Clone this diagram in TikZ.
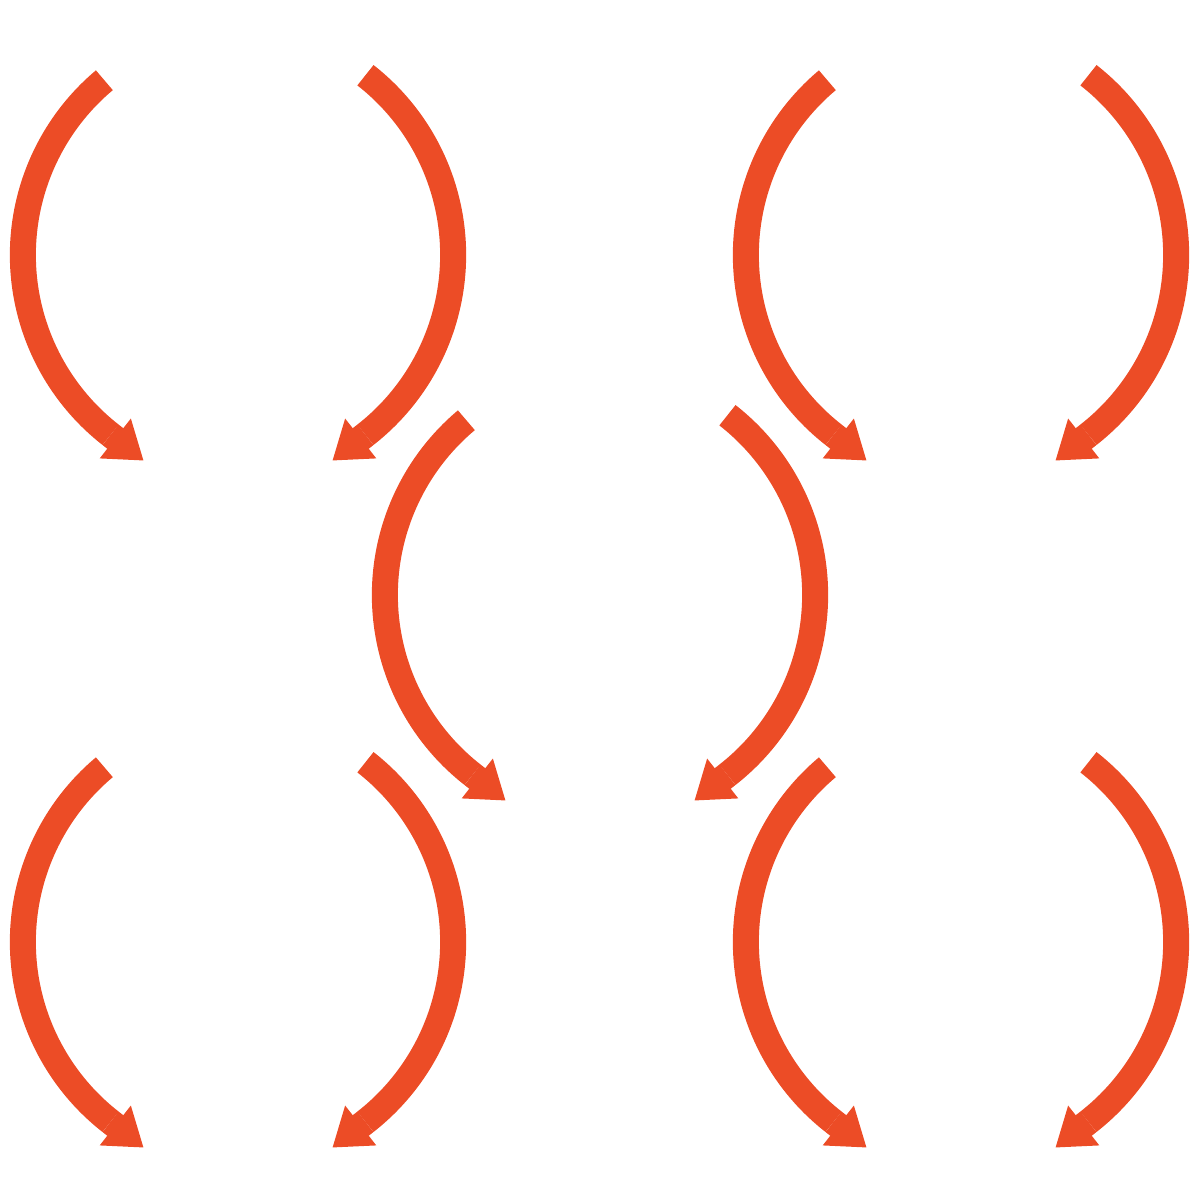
\documentclass[tikz,border=0pt]{standalone}
\usetikzlibrary{arrows.meta}
\definecolor{arcred}{HTML}{EC4C26}
\tikzset{arcline/.style={draw=arcred,line width=0.26cm},
  arcarrow/.style={arcline,-{Triangle[length=0.36cm,width=0.48cm]}}}
\begin{document}
\begin{tikzpicture}[x=0.01cm,y=0.01cm]
	\useasboundingbox (0,-1200) rectangle (1200,0);
	% pairs of arcs, centre of each pair
	\foreach \cx/\cy in {238/255, 961/255, 600/595, 238/942, 961/942}{
		\draw[arcline] (\cx+13,-\cy) ++(130:2.28cm) arc[start angle=130,end angle=232,radius=2.28cm] coordinate (lend);
		\draw[arcarrow] (lend) -- ++(322:0.42cm);
		\draw[arcline] (\cx-13,-\cy) ++(52:2.28cm) arc[start angle=52,end angle=-52,radius=2.28cm] coordinate (rend);
		\draw[arcarrow] (rend) -- ++(218:0.42cm);
	}
\end{tikzpicture}
\end{document}
